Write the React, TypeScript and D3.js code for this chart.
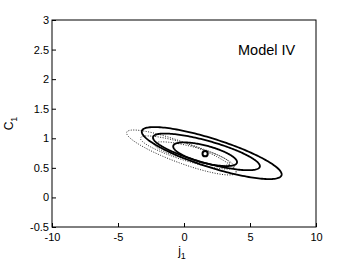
import React, { useEffect, useRef } from 'react';
import * as d3 from 'd3';

const xTicks = [-10, -5, 0, 5, 10];
const yTicks = [-0.5, 0, 0.5, 1, 1.5, 2, 2.5, 3];

// ellipse: centre, half-width in j1, half-height in C1, correlation
const solidEllipses = [
  { cx: 2.1, cy: 0.75, a: 5.3, b: 0.44, rho: -0.82 },
  { cx: 1.7, cy: 0.77, a: 4.05, b: 0.31, rho: -0.78 },
  { cx: 1.6, cy: 0.73, a: 2.42, b: 0.2, rho: -0.66 },
];
const dottedEllipses = [
  { cx: -0.2, cy: 0.76, a: 4.15, b: 0.38, rho: -0.87 },
  { cx: 0.25, cy: 0.76, a: 3.55, b: 0.28, rho: -0.85 },
  { cx: 0.6, cy: 0.74, a: 2.85, b: 0.2, rho: -0.8 },
];
const centrePoint = { x: 1.6, y: 0.74 };

export default function App() {
  const svgRef = useRef<SVGSVGElement>(null);

  useEffect(() => {
    const svg = d3.select(svgRef.current);
    svg.selectAll('*').remove();

    const margin = { top: 20, right: 33, bottom: 36, left: 52 };
    const W = 349, H = 263;
    const width = W - margin.left - margin.right;
    const height = H - margin.top - margin.bottom;
    const font = 'Liberation Sans, Arial, sans-serif';

    const x = d3.scaleLinear().domain([-10, 10]).range([0, width]);
    const y = d3.scaleLinear().domain([-0.5, 3]).range([height, 0]);

    const g = svg.append('g').attr('transform', `translate(${margin.left},${margin.top})`);

    g.append('rect')
      .attr('width', width).attr('height', height)
      .attr('fill', 'white').attr('stroke', '#000').attr('stroke-width', 1);

    const xAxis = g.append('g').attr('transform', `translate(0,${height})`)
      .call(d3.axisBottom(x).tickValues(xTicks).tickSize(-4).tickPadding(6).tickFormat(d => String(d)));
    const yAxis = g.append('g')
      .call(d3.axisLeft(y).tickValues(yTicks).tickSize(-4).tickPadding(3).tickFormat(d => String(d)));
    [xAxis, yAxis].forEach(ax => {
      ax.select('.domain').remove();
      ax.selectAll('text').attr('font-family', font).attr('font-size', 11).attr('fill', '#000');
      ax.selectAll('line').attr('stroke', '#000');
    });

    const line = d3.line<[number, number]>().x(d => x(d[0])).y(d => y(d[1])).curve(d3.curveLinearClosed);
    const pts = (e: typeof solidEllipses[0]) =>
      d3.range(0, 360, 2).map(deg => {
        const t = (deg * Math.PI) / 180;
        return [e.cx + e.a * Math.cos(t), e.cy + e.b * (e.rho * Math.cos(t) + Math.sqrt(1 - e.rho * e.rho) * Math.sin(t))] as [number, number];
      });

    g.selectAll('.dotted').data(dottedEllipses).enter().append('path')
      .attr('d', d => line(pts(d)))
      .attr('fill', 'none').attr('stroke', '#222').attr('stroke-width', 1)
      .attr('stroke-dasharray', '1,1.5');

    g.selectAll('.solid').data(solidEllipses).enter().append('path')
      .attr('d', d => line(pts(d)))
      .attr('fill', 'none').attr('stroke', '#000').attr('stroke-width', 1.8);

    g.append('circle')
      .attr('cx', x(centrePoint.x)).attr('cy', y(centrePoint.y)).attr('r', 2.6)
      .attr('fill', 'white').attr('stroke', '#000').attr('stroke-width', 2);

    g.append('text')
      .attr('x', x(6.26)).attr('y', y(2.41))
      .attr('text-anchor', 'middle').attr('font-family', font).attr('font-size', 14.5)
      .text('Model IV');

    const xl = svg.append('text')
      .attr('x', margin.left + x(-0.15)).attr('y', 255)
      .attr('font-family', font).attr('font-size', 12).attr('text-anchor', 'middle');
    xl.append('tspan').text('j');
    xl.append('tspan').attr('font-size', 9).attr('dy', 4).text('1');

    const yl = svg.append('text')
      .attr('transform', `translate(13,${margin.top + y(1.25)}) rotate(-90)`)
      .attr('font-family', font).attr('font-size', 12).attr('text-anchor', 'middle');
    yl.append('tspan').text('C');
    yl.append('tspan').attr('font-size', 9).attr('dy', 4).text('1');
  }, []);

  return <svg ref={svgRef} width={349} height={263} style={{ position: 'absolute', left: 0, top: 0, background: 'white' }} />;
}
